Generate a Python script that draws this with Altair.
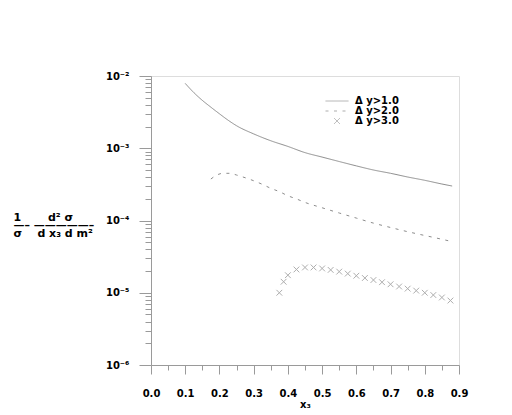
import altair as alt
import pandas as pd

labels = ["Δ y>1.0", "Δ y>2.0", "Δ y>3.0"]

x1 = [0.10, 0.125, 0.15, 0.175, 0.20, 0.225, 0.25, 0.30, 0.35, 0.40, 0.45, 0.50,
      0.55, 0.60, 0.65, 0.70, 0.75, 0.80, 0.85, 0.88]
y1 = [7.9e-3, 5.9e-3, 4.6e-3, 3.7e-3, 3.0e-3, 2.45e-3, 2.05e-3, 1.58e-3, 1.27e-3,
      1.06e-3, 8.7e-4, 7.55e-4, 6.55e-4, 5.7e-4, 5.0e-4, 4.5e-4, 4.0e-4, 3.6e-4,
      3.2e-4, 3.0e-4]

x2 = [0.175, 0.19, 0.21, 0.23, 0.25, 0.275, 0.30, 0.325, 0.35, 0.375, 0.40, 0.425,
      0.45, 0.50, 0.55, 0.60, 0.65, 0.70, 0.75, 0.80, 0.85, 0.88]
y2 = [3.75e-4, 4.2e-4, 4.5e-4, 4.5e-4, 4.26e-4, 3.91e-4, 3.55e-4, 3.17e-4, 2.79e-4,
      2.51e-4, 2.2e-4, 1.99e-4, 1.78e-4, 1.5e-4, 1.27e-4, 1.08e-4, 9.2e-5, 8.0e-5,
      7.0e-5, 6.2e-5, 5.5e-5, 5.1e-5]

x3 = [0.375, 0.3875, 0.40, 0.425, 0.45, 0.475, 0.50, 0.525, 0.55, 0.575, 0.60, 0.625,
      0.65, 0.675, 0.70, 0.725, 0.75, 0.775, 0.80, 0.825, 0.85, 0.875]
y3 = [1.0e-5, 1.42e-5, 1.75e-5, 2.1e-5, 2.24e-5, 2.24e-5, 2.17e-5, 2.07e-5, 1.96e-5,
      1.84e-5, 1.72e-5, 1.6e-5, 1.5e-5, 1.4e-5, 1.31e-5, 1.22e-5, 1.14e-5, 1.07e-5,
      1.0e-5, 9.3e-6, 8.6e-6, 7.8e-6]

x_ticks = [round(i * 0.05, 2) for i in range(19)]
y_ticks = [m * 10.0 ** e for e in range(-6, -2) for m in range(1, 10)] + [1e-2]

rows = []
for lab, xs, ys in zip(labels, [x1, x2, x3], [y1, y2, y3]):
    for a, b in zip(xs, ys):
        rows.append({"x": a, "y": b, "series": lab})
df = pd.DataFrame(rows)

GRAY = "#8c8c8c"
AX = "#9a9a9a"
FONT = "DejaVu Sans"
XPATH = "M-0.25,-0.25L0.25,0.25M-0.25,0.25L0.25,-0.25"
NB = "\u00a0"

dec_test = "abs(log(datum.value)/LN10 - round(log(datum.value)/LN10)) < 0.001"
x_major = "abs(datum.value*10 - round(datum.value*10)) < 0.001"

xscale = alt.Scale(domain=[0, 0.9], nice=False, zero=False)
yscale = alt.Scale(type="log", domain=[1e-6, 1e-2], nice=False)

xaxis = alt.Axis(
    values=x_ticks,
    labelExpr=f"{x_major} ? format(datum.value, '.1f') : ''",
    tickSize={"condition": {"test": x_major, "value": 9}, "value": 5},
    labelOverlap=False, labelFlush=False, grid=False,
    domainColor=AX, tickColor=AX, tickWidth=1, domainWidth=1,
    labelFont=FONT, labelFontWeight="bold", labelFontSize=10, labelColor="black",
    labelPadding=14,
    titleFont=FONT, titleFontWeight="bold", titleFontSize=10, titleColor="black",
    titlePadding=1,
)

ytitle = [
    NB + "1" + NB * 7 + "d²" + NB + "σ",
    "—–" + NB + "—————–",
    NB + "σ" + NB * 4 + "d x₃ d m²",
]

yaxis = alt.Axis(
    values=y_ticks,
    labelExpr=f"{dec_test} ? '10⁻' + ['⁰','¹','²','³','⁴','⁵','⁶'][-round(log(datum.value)/LN10)] : ''",
    tickSize={"condition": {"test": dec_test, "value": 12}, "value": 6},
    labelOverlap=False, labelFlush=False, grid=False,
    domainColor=AX, tickColor=AX, tickWidth=1, domainWidth=1,
    labelFont=FONT, labelFontWeight="bold", labelFontSize=10, labelColor="black",
    labelPadding=10,
    titleFont=FONT, titleFontWeight="bold", titleFontSize=11, titleColor="black",
    titleAngle=0, titleAlign="left", titleBaseline="middle",
    titleX=-138, titleY=141, titleLineHeight=8,
)

leg = alt.Legend(
    title=None, orient="none", legendX=174, legendY=21,
    symbolSize=529, symbolStrokeColor=GRAY, symbolStrokeWidth=1,
    symbolFillColor="transparent", clipHeight=8,
    labelFont=FONT, labelFontWeight="bold", labelFontSize=10, labelColor="black",
    labelOffset=6, rowPadding=0, padding=0,
)

lines = alt.Chart(df).transform_filter(
    alt.FieldOneOfPredicate(field="series", oneOf=labels[:2])
).mark_line(color=GRAY, strokeWidth=1, interpolate="monotone").encode(
    x=alt.X("x:Q", scale=xscale, axis=xaxis, title="x₃"),
    y=alt.Y("y:Q", scale=yscale, axis=yaxis, title=ytitle),
    strokeDash=alt.StrokeDash(
        "series:N",
        scale=alt.Scale(domain=labels, range=[[1, 0], [3, 5.5], [1, 0]]),
        legend=leg,
    ),
)

points = alt.Chart(df).transform_filter(
    alt.FieldEqualPredicate(field="series", equal=labels[2])
).mark_point(filled=False, color=GRAY, size=529, strokeWidth=1).encode(
    x=alt.X("x:Q", scale=xscale, axis=xaxis, title="x₃"),
    y=alt.Y("y:Q", scale=yscale, axis=yaxis, title=ytitle),
    shape=alt.Shape(
        "series:N",
        scale=alt.Scale(domain=labels, range=["stroke", "stroke", XPATH]),
        legend=leg,
    ),
)

chart = alt.layer(lines, points).properties(
    width=308, height=289,
    autosize="none",
    padding={"left": 143, "top": 68, "right": 45, "bottom": 50},
).configure_view(stroke=AX, strokeWidth=1).configure(background="white")

chart.save("out.html", embed_options={"renderer": "svg", "actions": False})
